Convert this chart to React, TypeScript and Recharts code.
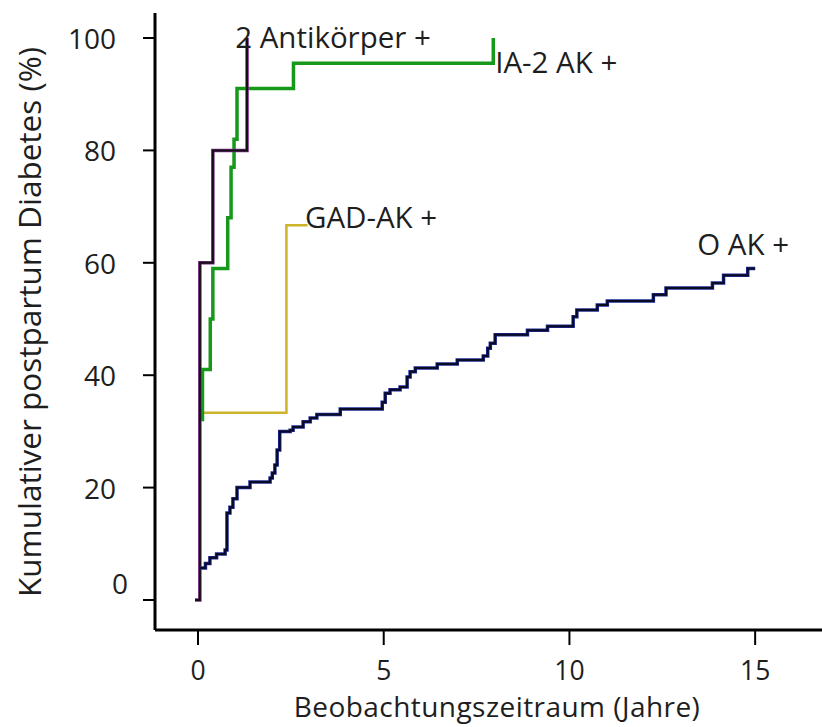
import { LineChart, Line, XAxis, YAxis, ReferenceDot } from 'recharts'

const FONT = '"Open Sans", sans-serif'
const TEXT = '#1e1e1e'

// years after delivery / cumulative diabetes (%)
const zweiAkT = [-0.08, 0.05, 0.4, 1.32]
const zweiAkV = [0, 60, 80, 100]

const ia2T = [0.12, 0.12, 0.33, 0.4, 0.8, 0.89, 0.97, 1.05, 2.57, 7.95]
const ia2V = [31.8, 41, 50, 59, 68, 77, 82, 91, 95.5, 100]

const gadT = [0.13, 2.38, 2.95]
const gadV = [33.3, 66.7, 66.7]

const nullAkT = [
  0.05, 0.2, 0.32, 0.5, 0.73, 0.78, 0.86, 0.94, 1.05, 1.4, 1.94, 2.0, 2.07, 2.13, 2.2, 2.48,
  2.56, 2.83, 3.02, 3.2, 3.83, 4.96, 5.04, 5.17, 5.44, 5.63, 5.71, 5.85, 6.44, 6.98, 7.68,
  7.8, 7.87, 8.0, 8.87, 9.41, 10.1, 10.2, 10.75, 11.02, 12.26, 12.6, 13.85, 14.15, 14.8, 15.0,
]
const nullAkV = [
  5.7, 6.5, 7.5, 8.2, 8.9, 15.5, 16.5, 18, 20, 21, 21.7, 22.6, 24, 26.7, 30, 30.2,
  30.8, 31.7, 32.4, 33, 34, 35.2, 36.8, 37.4, 37.9, 39.7, 40.6, 41.3, 42, 42.7, 43.4,
  44.8, 45.7, 47.2, 48, 48.7, 50.4, 51.6, 52.5, 53.2, 54.3, 55.5, 56.4, 57.8, 59, 59,
]

const xTicks = [0, 5, 10, 15]
const yTicks = [0, 20, 40, 60, 80, 100]

const toRows = (t: number[], v: number[]) => t.map((x, i) => ({ t: x, v: v[i] }))

const zweiAk = toRows(zweiAkT, zweiAkV)
const ia2 = toRows(ia2T, ia2V)
const gad = toRows(gadT, gadV)
const nullAk = toRows(nullAkT, nullAkV)

const YTick = (props: any) => {
  const { x, y, payload } = props
  const zero = payload.value === 0
  return (
    <text
      x={zero ? x + 4 : x - 8}
      y={zero ? y - 17 : y}
      textAnchor="end"
      dominantBaseline="central"
      fill={TEXT}
      fontSize={28}
      fontFamily={FONT}
    >
      {payload.value}
    </text>
  )
}

const XTick = (props: any) => {
  const { x, y, payload } = props
  return (
    <text x={x} y={y + 25} textAnchor="middle" dominantBaseline="central" fill={TEXT} fontSize={26.5} fontFamily={FONT}>
      {payload.value}
    </text>
  )
}

const labelStyle = { position: 'right' as const, offset: 0, fill: TEXT, fontSize: 29.5, fontFamily: FONT }

export default function App() {
  return (
    <div style={{ position: 'absolute', left: 0, top: 0, background: '#fff' }}>
      <LineChart width={822} height={727} margin={{ top: 13, right: 0, left: 0, bottom: 0 }} style={{ fontFamily: FONT }}>
        <XAxis
          dataKey="t"
          type="number"
          domain={[-1.158, 16.8]}
          ticks={xTicks}
          height={97}
          tickSize={15}
          tickMargin={0}
          tick={<XTick />}
          axisLine={{ stroke: '#000', strokeWidth: 3 }}
          tickLine={{ stroke: '#000', strokeWidth: 2 }}
          allowDataOverflow
          label={{
            content: () => (
              <text
                x={497}
                y={706}
                textAnchor="middle"
                dominantBaseline="central"
                fill={TEXT}
                fontSize={28}
                letterSpacing={0.45}
                fontFamily={FONT}
              >
                Beobachtungszeitraum (Jahre)
              </text>
            ),
          }}
        />
        <YAxis
          dataKey="v"
          type="number"
          domain={[-5.34, 104.45]}
          ticks={yTicks}
          width={155}
          tickSize={12}
          tickMargin={19}
          tick={<YTick />}
          axisLine={{ stroke: '#000', strokeWidth: 3 }}
          tickLine={{ stroke: '#000', strokeWidth: 2 }}
          allowDataOverflow
          label={{
            content: () => (
              <text
                x={28}
                y={322}
                transform="rotate(-90 28 322)"
                textAnchor="middle"
                dominantBaseline="central"
                fill={TEXT}
                fontSize={31.5}
                fontFamily={FONT}
              >
                Kumulativer postpartum Diabetes (%)
              </text>
            ),
          }}
        />
        <Line data={gad} dataKey="v" type="stepAfter" stroke="#cbb42a" strokeWidth={2.5} dot={false} isAnimationActive={false} />
        <Line data={ia2} dataKey="v" type="stepAfter" stroke="#16981a" strokeWidth={3.5} dot={false} isAnimationActive={false} />
        <Line data={zweiAk} dataKey="v" type="stepAfter" stroke="#7a2a86" strokeWidth={3.5} dot={false} isAnimationActive={false} />
        <Line data={zweiAk} dataKey="v" type="stepAfter" stroke="#111" strokeWidth={2} dot={false} isAnimationActive={false} />
        <Line data={nullAk} dataKey="v" type="stepAfter" stroke="#1c2a9a" strokeWidth={3.5} dot={false} isAnimationActive={false} />
        <Line data={nullAk} dataKey="v" type="stepAfter" stroke="#0a0a20" strokeWidth={2} dot={false} isAnimationActive={false} />
        <ReferenceDot x={1.0} y={100} r={0} label={{ value: '2 Antikörper +', ...labelStyle }} />
        <ReferenceDot x={8.0} y={95.6} r={0} label={{ value: 'IA-2 AK +', ...labelStyle }} />
        <ReferenceDot x={2.88} y={68} r={0} label={{ value: 'GAD-AK +', ...labelStyle }} />
        <ReferenceDot x={13.44} y={63.2} r={0} label={{ value: 'O AK +', ...labelStyle }} />
      </LineChart>
    </div>
  )
}
